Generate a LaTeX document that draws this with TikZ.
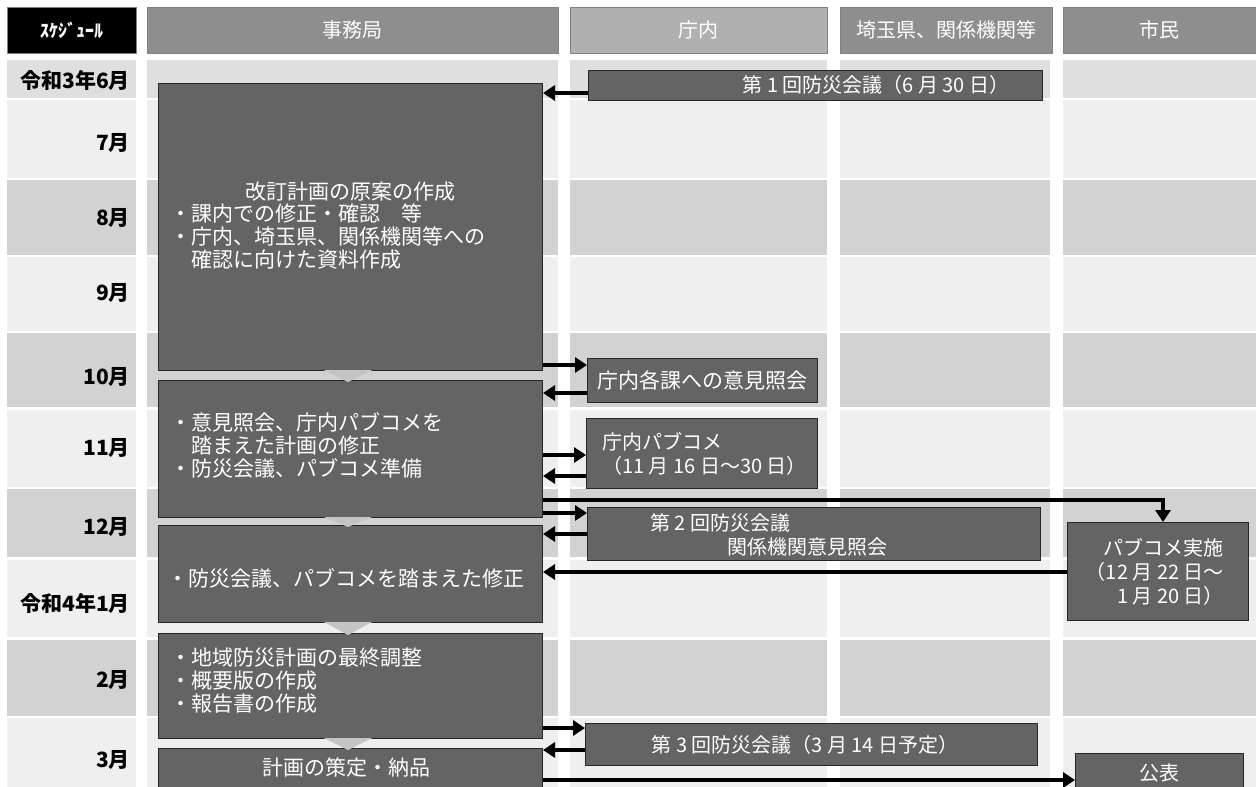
\documentclass[tikz,border=0pt]{standalone}
\usepackage{fontspec}
\newfontfamily\jp{Noto Sans CJK JP}
\usetikzlibrary{arrows.meta}
\definecolor{bandA}{HTML}{EFEFEF}
\definecolor{bandB}{HTML}{D2D2D2}
\definecolor{bandC}{HTML}{DFDFDF}
\definecolor{boxg}{HTML}{646464}
\definecolor{hdA}{HTML}{8E8E8E}
\definecolor{hdB}{HTML}{B0B0B0}
\definecolor{trig}{HTML}{C4C4C4}
\tikzset{
  box/.style={fill=boxg, draw=black!85, line width=1pt, anchor=north west, inner sep=0pt},
  hdr/.style={anchor=north west, inner sep=0pt, draw=black!50, line width=0.4pt},
  wt/.style={text=white, inner sep=0pt, font=\jp\fontsize{21}{23}\selectfont},
  wts/.style={text=white, inner sep=0pt, font=\jp\fontsize{20}{24}\selectfont},
  mon/.style={anchor=east, inner sep=0pt, font=\jp\bfseries\fontsize{21}{24}\selectfont},
  arr/.style={line width=4.5pt, -{Triangle[length=12pt,width=15pt]}},
  tri/.style={fill=trig}
}
\begin{document}
\begin{tikzpicture}[x=1pt,y=-1pt]
\useasboundingbox (0,0) rectangle (1256,787);
\fill[white] (0,0) rectangle (1256,787);
% background bands
\foreach \ya/\yb/\c in {60/98/bandC,100/178/bandA,180/255/bandB,257/331/bandA,333/407/bandB,410/487/bandA,489/557/bandB,560/637/bandA,640/716/bandB,718/787/bandA}{
  \foreach \xa/\xb in {7/136,147/558,570/827,840/1050,1063/1256}{
    \fill[\c] (\xa,\ya) rectangle (\xb,\yb);
  }
}
% headers
\node[hdr, fill=black, minimum width=129pt, minimum height=46pt] (h0) at (7,7) {};
\node[text=white, font=\jp\bfseries\fontsize{18}{20}\selectfont] at (h0.center) {ｽｹｼﾞｭｰﾙ};
\node[hdr, fill=hdA, minimum width=411pt, minimum height=46pt] (h1) at (147,7) {};
\node[wts] at (h1.center) {事務局};
\node[hdr, fill=hdB, minimum width=257pt, minimum height=46pt] (h2) at (570,7) {};
\node[wts] at (h2.center) {庁内};
\node[hdr, fill=hdA, minimum width=212pt, minimum height=46pt] (h3) at (840,7) {};
\node[wts] at (h3.center) {埼玉県、関係機関等};
\node[hdr, fill=hdA, minimum width=193pt, minimum height=46pt] (h4) at (1063,7) {};
\node[wts] at (h4.center) {市民};
% month labels
\node[mon] (r1) at (130,80) {令和3年6月};
\node[mon] (r2) at (130,143) {7月};
\node[mon] (r3) at (130,218) {8月};
\node[mon] (r4) at (130,293) {9月};
\node[mon] (r5) at (130,377) {10月};
\node[mon] (r6) at (130,448) {11月};
\node[mon] (r7) at (130,527) {12月};
\node[mon] (r8) at (130,603) {令和4年1月};
\node[mon] (r9) at (130,680) {2月};
\node[mon] (r10) at (130,760) {3月};
% main column boxes
\node[box, minimum width=384pt, minimum height=287pt] (b1) at (158,83) {};
\node[box, minimum width=384pt, minimum height=137pt] (b2) at (158,380) {};
\node[box, minimum width=384pt, minimum height=97pt] (b3) at (158,525) {};
\node[box, minimum width=384pt, minimum height=105pt] (b4) at (158,633) {};
\node[box, minimum width=384pt, minimum height=60pt] (b5) at (158,748) {};
% triangles between boxes
\fill[tri] (324,370) -- (372,370) -- (348,382) -- cycle;
\fill[tri] (324,517) -- (372,517) -- (348,527) -- cycle;
\fill[tri] (324,622) -- (372,622) -- (348,635) -- cycle;
\fill[tri] (324,738) -- (372,738) -- (348,750) -- cycle;
% main texts
\node[wt] (b1t) at (350,192) {改訂計画の原案の作成};
\node[wt, anchor=west, align=left] (b1l) at (170,237) {・課内での修正・確認　等\\・庁内、埼玉県、関係機関等への\\　確認に向けた資料作成};
\node[wt, anchor=west, align=left] (b2l) at (170,445) {・意見照会、庁内パブコメを\\　踏まえた計画の修正\\・防災会議、パブコメ準備};
\node[wt] (b3t) at (346,578) {・防災会議、パブコメを踏まえた修正};
\node[wt, anchor=west, align=left] (b4l) at (170,681) {・地域防災計画の最終調整\\・概要版の作成\\・報告書の作成};
\node[wt] (b5t) at (346,768) {計画の策定・納品};
% right boxes
\node[box, minimum width=454pt, minimum height=30pt] (m1) at (588,70) {};
\node[wts] at (876,85) {第 1 回防災会議（6 月 30 日）};
\node[box, minimum width=230pt, minimum height=44pt] (t1) at (587,358) {};
\node[wt] at (t1.center) {庁内各課への意見照会};
\node[box, minimum width=231pt, minimum height=70pt] (t2) at (586,418) {};
\node[wts, anchor=west, align=left] at (602,454) {庁内パブコメ\\（11 月 16 日～30 日）};
\node[box, minimum width=453pt, minimum height=53pt] (m2) at (587,507) {};
\node[wts, anchor=west] at (650,523) {第 2 回防災会議};
\node[wts, anchor=west] at (727,547) {関係機関意見照会};
\node[box, minimum width=181pt, minimum height=98pt] (p) at (1067,522) {};
\node[wts, anchor=east, align=right] at (1224,572) {パブコメ実施\\（12 月 22 日～\\1 月 20 日）};
\node[box, minimum width=452pt, minimum height=42pt] (m3) at (585,723) {};
\node[wts] at (805,745) {第 3 回防災会議（3 月 14 日予定）};
\node[box, minimum width=168pt, minimum height=50pt] (k) at (1075,753) {};
\node[wts] at (1159,773) {公表};
% arrows
\draw[arr] (m1.west |- 0,93) -- (b1.east |- 0,93);
\draw[arr] (b1.east |- 0,365) -- (t1.west |- 0,365);
\draw[arr] (t1.west |- 0,393) -- (b2.east |- 0,393);
\draw[arr] (b2.east |- 0,455) -- (t2.west |- 0,455);
\draw[arr] (t2.west |- 0,476) -- (b2.east |- 0,476);
\coordinate (turn) at (1163,500);
\draw[arr] (b2.east |- turn) -- (turn) -- (turn |- p.north);
\draw[arr] (b2.east |- 0,513) -- (m2.west |- 0,513);
\draw[arr] (m2.west |- 0,534) -- (b3.east |- 0,534);
\draw[arr] (p.west |- 0,572) -- (b3.east |- 0,572);
\draw[arr] (b4.east |- 0,728) -- (m3.west |- 0,728);
\draw[arr] (m3.west |- 0,750) -- (b5.east |- 0,750);
\draw[arr] (b5.east |- 0,780) -- (k.west |- 0,780);
\end{tikzpicture}
\end{document}
